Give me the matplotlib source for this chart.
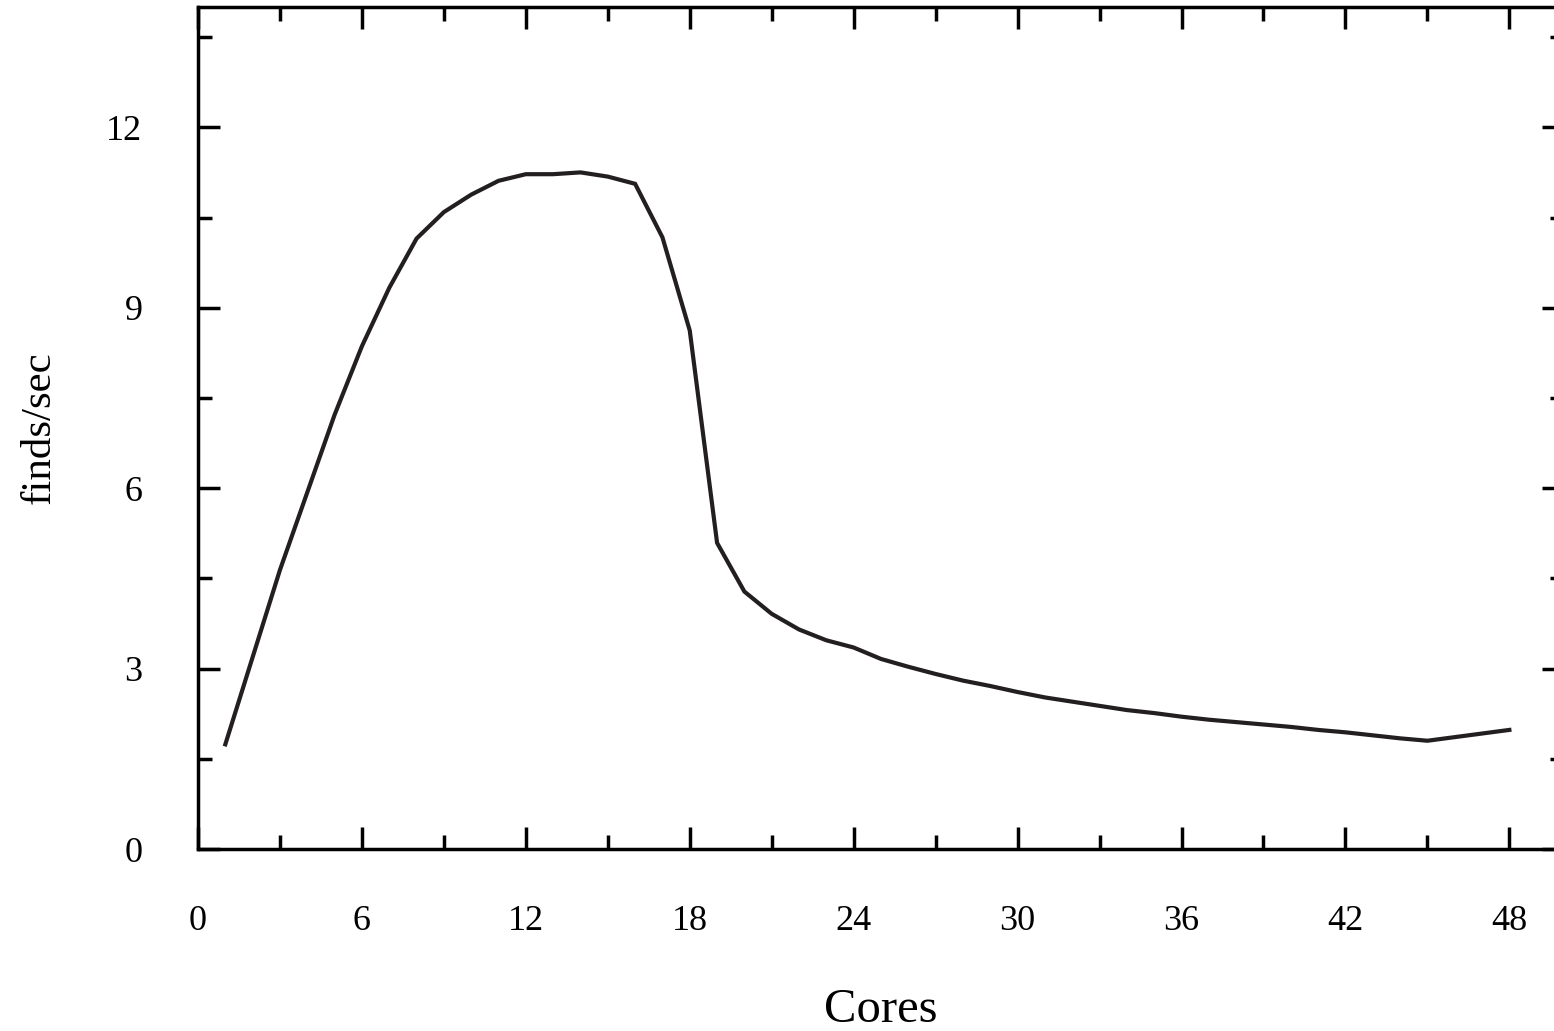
import matplotlib
matplotlib.use('Agg')
import matplotlib.pyplot as plt
from matplotlib.ticker import MultipleLocator

# Data
cores = list(range(1, 49))
finds_per_sec = [
    1.74, 3.19, 4.64, 5.93, 7.22, 8.36, 9.33, 10.15, 10.59, 10.88,
    11.11, 11.22, 11.22, 11.25, 11.18, 11.06, 10.17, 8.62, 5.09, 4.28,
    3.91, 3.65, 3.47, 3.35, 3.16, 3.03, 2.91, 2.80, 2.71, 2.61,
    2.52, 2.45, 2.38, 2.31, 2.26, 2.20, 2.15, 2.11, 2.07, 2.03,
    1.98, 1.94, 1.89, 1.84, 1.80, 1.86, 1.92, 1.98,
]
x_ticks = [0, 6, 12, 18, 24, 30, 36, 42, 48]
y_ticks = [0, 3, 6, 9, 12]

plt.rcParams['font.family'] = ['Liberation Serif', 'DejaVu Serif']

W, H = 1554, 1031
fig = plt.figure(figsize=(W / 100, H / 100), dpi=100)
# axes run a little past the right edge, so the right spine is cut off
left, bottom = 198 / W, (H - 849) / H
width, height = 1366 / W, 842 / H
ax = fig.add_axes([left, bottom, width, height])

ax.plot(cores, finds_per_sec, color='#231f20', lw=3.0, solid_joinstyle='miter')

ax.set_xlim(0, 50)
ax.set_ylim(0, 14)
ax.set_xticks(x_ticks)
ax.set_yticks(y_ticks)
ax.xaxis.set_minor_locator(MultipleLocator(3))
ax.yaxis.set_minor_locator(MultipleLocator(1.5))

ax.tick_params(which='both', direction='in', top=True, right=True,
               width=2.5, colors='black', labelsize=26)
ax.tick_params(which='major', length=16, pad=40)
ax.tick_params(which='minor', length=10)

for s in ax.spines.values():
    s.set_linewidth(2.5)
    s.set_color('black')

ax.set_xlabel('Cores', fontsize=35, labelpad=36)
ax.set_ylabel('finds/sec', fontsize=31, labelpad=34)

fig.savefig('out.png', dpi=100)
